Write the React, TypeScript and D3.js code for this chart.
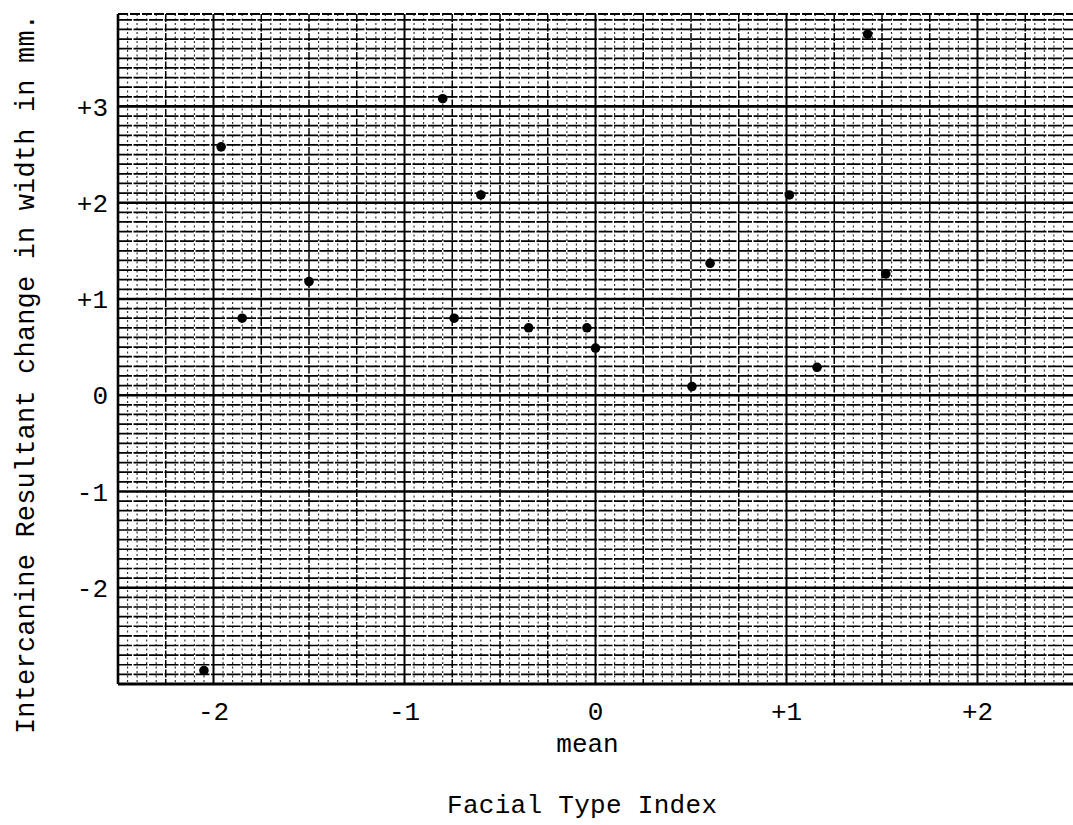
import React, { useEffect, useRef } from 'react'
import * as d3 from 'd3'

// facial type index (x) vs resultant intercanine width change in mm (y)
const facialIndex = [-1.96, -1.85, -1.5, -2.05, -0.8, -0.74, -0.6, -0.35, -0.045, 0.0, 0.505, 0.6, 1.015, 1.16, 1.425, 1.52]
const widthChange = [2.58, 0.8, 1.18, -2.86, 3.08, 0.8, 2.08, 0.7, 0.7, 0.49, 0.09, 1.37, 2.08, 0.29, 3.75, 1.26]

const xTicks = [-2, -1, 0, 1, 2]
const xTickLabels = ['-2', '-1', '0', '+1', '+2']
const yTicks = [-2, -1, 0, 1, 2, 3]
const yTickLabels = ['-2', '-1', '0', '+1', '+2', '+3']

const W = 1073
const H = 825
const FONT = '"Liberation Mono", "DejaVu Sans Mono", monospace'

export default function App() {
  const ref = useRef<SVGSVGElement>(null)

  useEffect(() => {
    const svg = d3.select(ref.current)
    svg.selectAll('*').remove()

    const x = d3.scaleLinear().domain([-2.5, 2.5]).range([118, 1073])
    const y = d3.scaleLinear().domain([-3, 3.96]).range([684, 14])

    const left = x(-2.5)
    const right = x(2.5)
    const top = y(3.96)
    const bottom = y(-3)
    const isInt = (d: number) => Math.abs(d - Math.round(d)) < 0.01

    const grid = svg.append('g')

    // fine vertical rulings every 0.05
    const vFine = d3.range(-2.45, 2.5, 0.05).filter(v => Math.abs(Math.round(v * 4) - v * 4) > 0.01)
    grid.selectAll('.vf')
      .data(vFine)
      .enter()
      .append('line')
      .attr('x1', d => x(d))
      .attr('x2', d => x(d))
      .attr('y1', top)
      .attr('y2', bottom)
      .attr('stroke', '#333')
      .attr('stroke-width', 1.2)
      .attr('stroke-dasharray', '2,2.5')

    // vertical rulings every 0.25
    const vMid = d3.range(-2.25, 2.5, 0.25)
    grid.selectAll('.vm')
      .data(vMid)
      .enter()
      .append('line')
      .attr('x1', d => x(d))
      .attr('x2', d => x(d))
      .attr('y1', top)
      .attr('y2', bottom)
      .attr('stroke', '#000')
      .attr('stroke-width', d => (isInt(d) ? 2 : 1.5))
      .attr('stroke-dasharray', d => (isInt(d) ? null : '8,1.5'))

    // horizontal rulings every 0.1
    const hLines = d3.range(-2.9, 3.95, 0.1)
    grid.selectAll('.h')
      .data(hLines)
      .enter()
      .append('line')
      .attr('x1', left)
      .attr('x2', right)
      .attr('y1', d => y(d))
      .attr('y2', d => y(d))
      .attr('stroke', '#000')
      .attr('stroke-width', d => (isInt(d) ? 2.6 : 1.7))
      .attr('stroke-dasharray', d => (isInt(d) ? null : '14,1.5'))

    // frame
    grid.append('line').attr('x1', left).attr('x2', right).attr('y1', top).attr('y2', top)
      .attr('stroke', '#000').attr('stroke-width', 2).attr('stroke-dasharray', '10,2')
    grid.append('line').attr('x1', left).attr('x2', right).attr('y1', bottom).attr('y2', bottom)
      .attr('stroke', '#000').attr('stroke-width', 3.2)
    grid.append('line').attr('x1', left).attr('x2', left).attr('y1', top).attr('y2', bottom)
      .attr('stroke', '#000').attr('stroke-width', 2.6)

    // points
    svg.append('g')
      .selectAll('circle')
      .data(facialIndex.map((v, i) => [v, widthChange[i]]))
      .enter()
      .append('circle')
      .attr('cx', d => x(d[0]))
      .attr('cy', d => y(d[1]))
      .attr('r', 4.8)
      .attr('fill', '#000')

    // tick labels
    svg.append('g')
      .selectAll('text')
      .data(xTicks)
      .enter()
      .append('text')
      .attr('x', d => x(d))
      .attr('y', 720)
      .attr('text-anchor', 'middle')
      .attr('font-family', FONT)
      .attr('font-size', 26)
      .attr('fill', '#000')
      .text((d, i) => xTickLabels[i])

    svg.append('g')
      .selectAll('text')
      .data(yTicks)
      .enter()
      .append('text')
      .attr('x', 108)
      .attr('y', d => y(d))
      .attr('dy', '0.35em')
      .attr('text-anchor', 'end')
      .attr('font-family', FONT)
      .attr('font-size', 26)
      .attr('fill', '#000')
      .text((d, i) => yTickLabels[i])

    // titles
    svg.append('text')
      .attr('x', x(0) - 8)
      .attr('y', 752)
      .attr('text-anchor', 'middle')
      .attr('font-family', FONT)
      .attr('font-size', 26)
      .attr('fill', '#000')
      .text('mean')

    svg.append('text')
      .attr('x', 582)
      .attr('y', 813)
      .attr('text-anchor', 'middle')
      .attr('font-family', FONT)
      .attr('font-size', 26)
      .attr('fill', '#000')
      .attr('textLength', 270)
      .attr('lengthAdjust', 'spacing')
      .text('Facial Type Index')

    svg.append('text')
      .attr('transform', 'translate(34,374) rotate(-90)')
      .attr('text-anchor', 'middle')
      .attr('font-family', FONT)
      .attr('font-size', 27)
      .attr('fill', '#000')
      .attr('textLength', 720)
      .attr('lengthAdjust', 'spacing')
      .text('Intercanine Resultant change in width in mm.')
  }, [])

  return (
    <svg
      ref={ref}
      width={W}
      height={H}
      style={{ position: 'absolute', left: 0, top: 0, background: '#fff', display: 'block' }}
    />
  )
}
